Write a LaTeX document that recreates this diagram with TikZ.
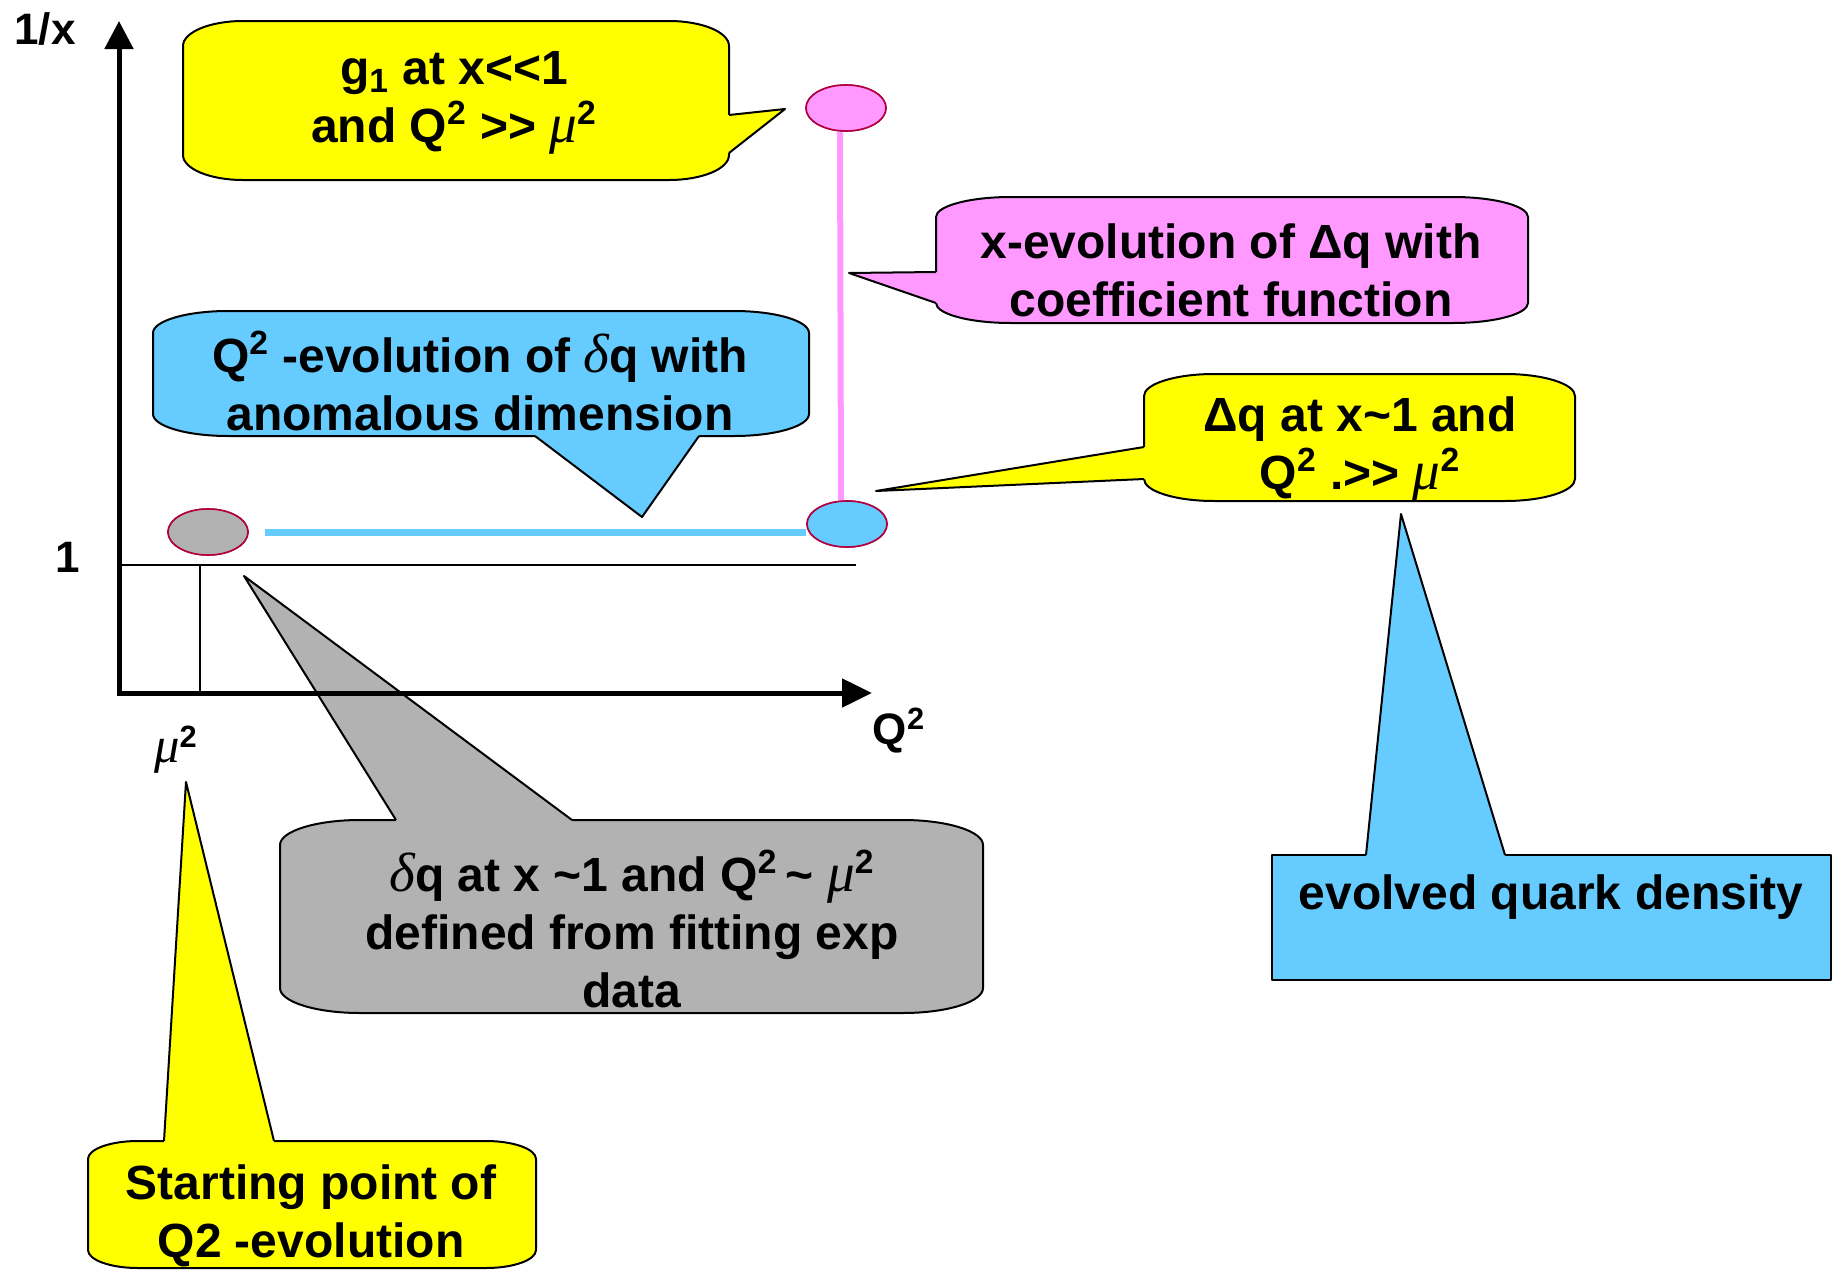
\documentclass[tikz,border=0pt]{standalone}
\usepackage{fontspec}
\setmainfont{Liberation Sans}
\newfontfamily\grk{Liberation Serif}[Scale=1.15]
\newcommand\gmu{{\grk\itshape\mdseries μ}}
\newcommand\gdelta{{\grk\itshape\mdseries δ}}
\usetikzlibrary{arrows.meta,calc,shapes.geometric}
\definecolor{cyel}{HTML}{FFFF00}
\definecolor{cpink}{HTML}{FF99FF}
\definecolor{cblue}{HTML}{66CCFF}
\definecolor{cgray}{HTML}{B2B2B2}
\definecolor{cdot}{HTML}{B00040}
% rounded callout body: style, L, T, R, B, rx, ry
\newcommand\rbody[7]{%
\path[#1] (#2+#6,#3) -- (#4-#6,#3)
 .. controls (#4-0.448*#6,#3) and (#4,#3+0.448*#7) .. (#4,#3+#7) -- (#4,#5-#7)
 .. controls (#4,#5-0.448*#7) and (#4-0.448*#6,#5) .. (#4-#6,#5) -- (#2+#6,#5)
 .. controls (#2+0.448*#6,#5) and (#2,#5-0.448*#7) .. (#2,#5-#7) -- (#2,#3+#7)
 .. controls (#2,#3+0.448*#7) and (#2+0.448*#6,#3) .. (#2+#6,#3) -- cycle;}
% callout wedge: colour, base1, tip, base2, inward shift
\newcommand\cwedge[5]{%
\fill[#1] ($#2+#5$) -- #2 -- #3 -- #4 -- ($#4+#5$) -- cycle;
\draw[outl] #2 -- #3 -- #4;}
\tikzset{
  outl/.style={draw=black, line width=1pt, line join=round},
  lbl/.style={font=\fontsize{24}{29}\selectfont\bfseries, align=center, inner sep=0pt},
  axlbl/.style={font=\fontsize{22}{26}\selectfont\bfseries, inner sep=0pt},
  dot/.style={ellipse, draw=cdot, line width=0.8pt, minimum width=40pt, minimum height=23pt, inner sep=0pt},
}
\begin{document}
\begin{tikzpicture}[x=0.5pt,y=-0.5pt]
\useasboundingbox (0,0) rectangle (1843,1274);
\fill[white] (0,0) rectangle (1843,1274);

% gray callout (behind axes)
\rbody{fill=cgray,outl}{280}{820}{983}{1013}{80}{25}
\cwedge{cgray}{(396,820)}{(244,576)}{(572,820)}{(0,4)}
\node[lbl] (tgray) at (632,929) {\gdelta q at x \textasciitilde1 and Q\textsuperscript{2}\,\textasciitilde\ \gmu\textsuperscript{2}\\defined from fitting exp\\data};

% axes
\coordinate (O) at (119,693);
\coordinate (Ytip) at (119,21);
\coordinate (Xtip) at (872,693);
\coordinate (Lone) at (119,565);
\coordinate (Rone) at (856,565);
\coordinate (Mu) at (200,565);
\coordinate (MuB) at (200,693);
\draw[line width=1pt] (Lone) -- (Rone);
\draw[line width=1pt] (Mu) -- (MuB);
\draw[line width=2.5pt, line join=miter, {Triangle[length=14pt,width=14pt]}-{Triangle[length=15pt,width=14pt]}] (Ytip) -- (O) -- (Xtip);
\node[axlbl] (lx) at (45,29) {1/x};
\node[axlbl] (lone) at (68,557) {1};
\node[axlbl] (lq) at (899,731) {Q\textsuperscript{2}};
\node[axlbl] (lmu) at (176,750) {\gmu\textsuperscript{2}};

% points and evolution lines
\node[dot, fill=cgray] (gdot) at (208,532) {};
\node[dot, fill=cblue] (bdot) at (847,524) {};
\node[dot, fill=cpink] (pdot) at (846,108) {};
\draw[cblue, line width=3.5pt] ($(gdot.east)+(16,0)$) -- (bdot.west |- gdot.east);
\draw[cpink, line width=3pt] ([xshift=-3pt]pdot.south) -- ([xshift=-3pt]bdot.north);
\node[dot, fill=cgray] at (gdot) {};
\node[dot, fill=cblue] at (bdot) {};
\node[dot, fill=cpink] at (pdot) {};

% top yellow callout
\rbody{fill=cyel,outl}{183}{21}{729}{180}{60}{25}
\cwedge{cyel}{(729,115)}{(785,109)}{(729,153)}{(-4,0)}
\node[lbl] (tg1) at (454,103) {g\textsubscript{1} at x<{}<1\\and Q\textsuperscript{2} >{}> \gmu\textsuperscript{2}};

% pink callout
\rbody{fill=cpink,outl}{936}{197}{1528}{323}{75}{20}
\cwedge{cpink}{(936,272)}{(849,273)}{(936,303)}{(4,0)}
\node[lbl] (tpink) at (1231,270) {x-evolution of Δq with\\coefficient function};

% blue callout
\rbody{fill=cblue,outl}{153}{311}{809}{436}{75}{22}
\cwedge{cblue}{(535,436)}{(642,517)}{(699,436)}{(0,-4)}
\node[lbl] (tblue) at (480,381) {Q\textsuperscript{2} -evolution of \gdelta q with\\anomalous dimension};

% right yellow callout
\rbody{fill=cyel,outl}{1144}{374}{1575}{501}{70}{22}
\cwedge{cyel}{(1144,447)}{(876,491)}{(1144,479)}{(4,0)}
\node[lbl] (tdq) at (1360,449) {Δq at x\textasciitilde1 and\\Q\textsuperscript{2} .>{}> \gmu\textsuperscript{2}};

% blue rectangle callout
\path[fill=cblue,outl] (1272,855) rectangle (1831,980);
\cwedge{cblue}{(1366,855)}{(1401,514)}{(1505,855)}{(0,4)}
\node[lbl] (tevo) at (1551,897) {evolved quark density};

% bottom yellow callout
\rbody{fill=cyel,outl}{88}{1141}{536}{1268}{50}{18}
\cwedge{cyel}{(164,1141)}{(186,782)}{(274,1141)}{(0,4)}
\node[lbl] (tstart) at (311,1216) {Starting point of\\Q2 -evolution};
\end{tikzpicture}
\end{document}
